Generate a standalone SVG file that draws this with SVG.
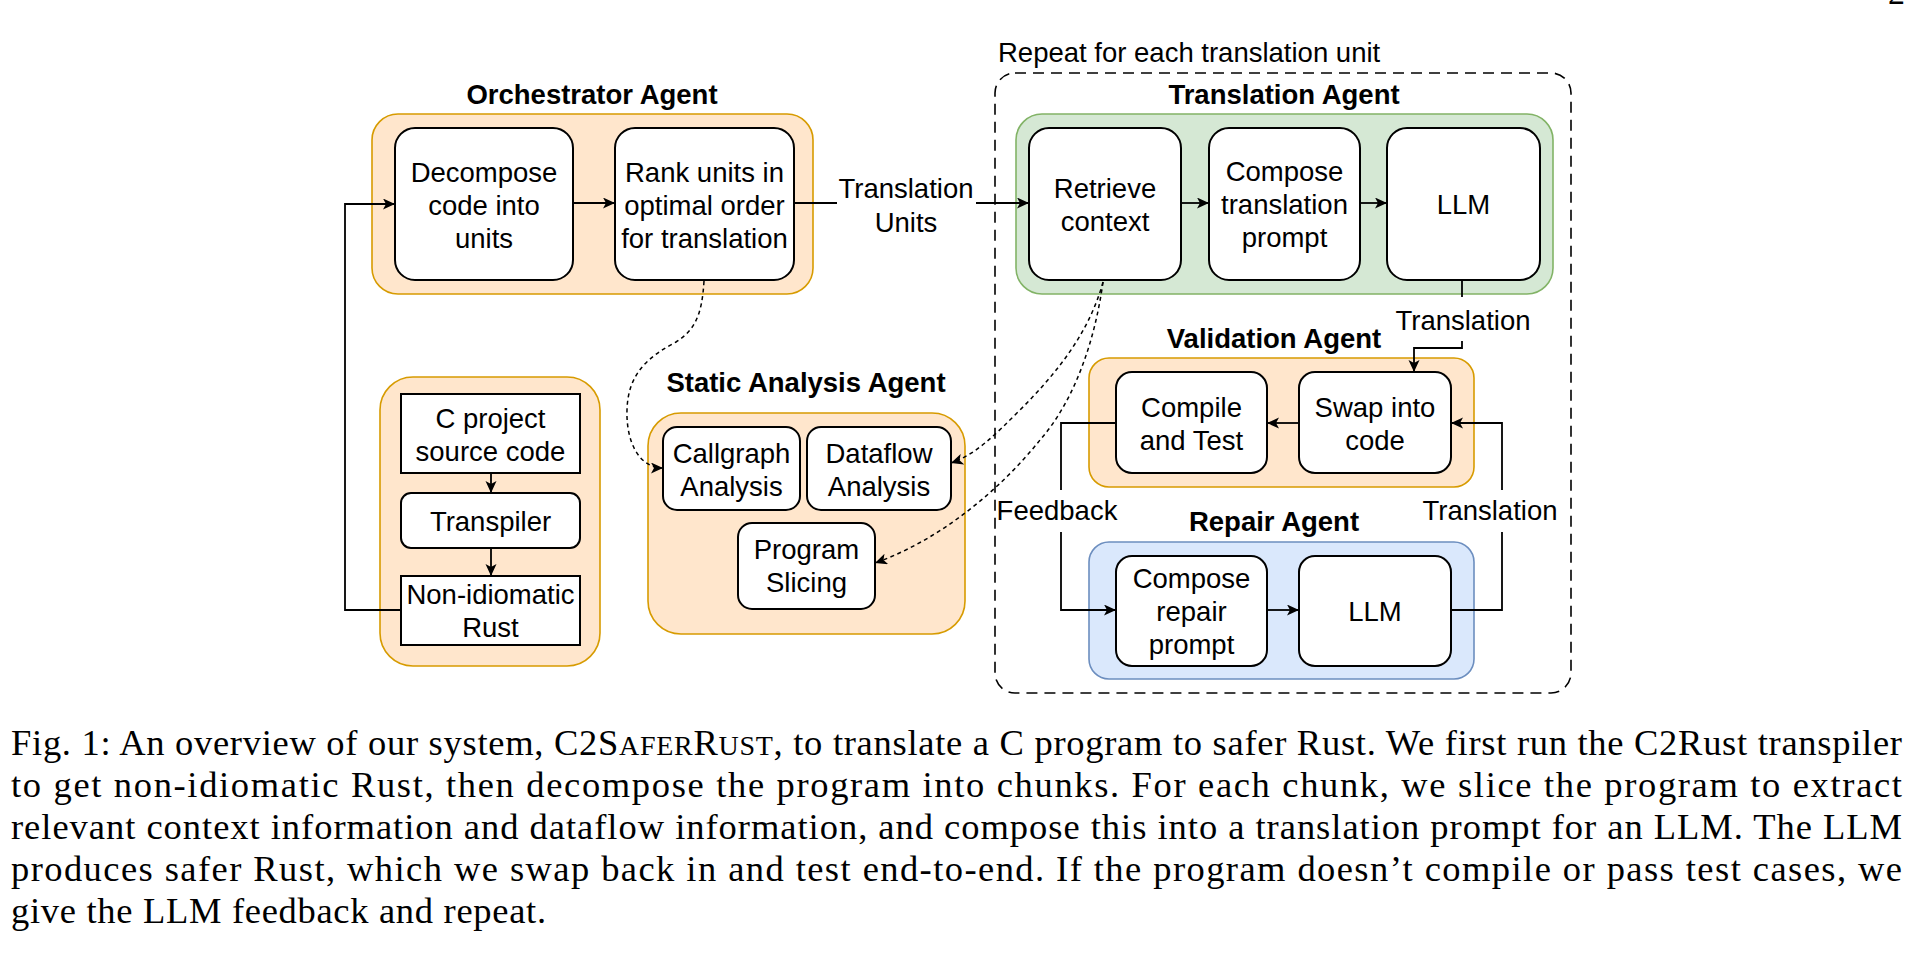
<svg xmlns="http://www.w3.org/2000/svg" width="1924" height="968" viewBox="0 0 1924 968">
<style>
.bg{fill:#ffffff}
.orange{fill:#ffe6cc;stroke:#d79b00;stroke-width:1.6}
.green{fill:#d5e8d4;stroke:#82b366;stroke-width:1.6}
.blue{fill:#dae8fc;stroke:#6c8ebf;stroke-width:1.6}
.box{fill:#ffffff;stroke:#000000;stroke-width:2}
.t{font-family:"Liberation Sans",Arial,Helvetica,sans-serif;font-size:27.5px;fill:#000000;text-anchor:middle}
.title{font-family:"Liberation Sans",Arial,Helvetica,sans-serif;font-size:27.5px;font-weight:bold;fill:#000000;text-anchor:middle}
.lbl{font-family:"Liberation Sans",Arial,Helvetica,sans-serif;font-size:27.5px;fill:#000000}
.edge{fill:none;stroke:#000000;stroke-width:1.8}
.dot{fill:none;stroke:#000000;stroke-width:1.5;stroke-dasharray:4 3.5}
.loop{fill:none;stroke:#000000;stroke-width:1.6;stroke-dasharray:11 7}
.cap{font-family:"Liberation Serif","Times New Roman",serif;font-size:36.5px;fill:#000000}
</style>
<defs>
<marker id="arr" markerUnits="userSpaceOnUse" markerWidth="14" markerHeight="12" refX="12" refY="5.5" orient="auto">
<path d="M0,0 L12,5.5 L0,11 L3,5.5 z" fill="#000000"/>
</marker>
</defs>
<rect class="bg" x="0" y="0" width="1924" height="968"/>

<!-- partial page number (cut off at the top edge, as in the reference) -->
<text x="1888" y="4" style="font-family:'Liberation Serif',serif;font-size:34px;fill:#000">2</text>

<!-- Repeat loop -->
<g id="repeat-loop">
<rect class="loop" x="995" y="73" width="576" height="620" rx="20" ry="20"/>
<text class="lbl" x="998" y="62">Repeat for each translation unit</text>
</g>

<!-- Orchestrator Agent -->
<g id="orchestrator-agent">
<text class="title" x="592" y="104">Orchestrator Agent</text>
<rect class="orange" x="372" y="114" width="441" height="180" rx="26" ry="26"/>
</g>
<g id="decompose">
<rect class="box" x="395" y="128" width="178" height="152" rx="20" ry="20"/>
<text class="t" x="484" y="182">Decompose</text>
<text class="t" x="484" y="215">code into</text>
<text class="t" x="484" y="248">units</text>
</g>
<g id="rank">
<rect class="box" x="615" y="128" width="179" height="152" rx="20" ry="20"/>
<text class="t" x="704.5" y="182">Rank units in</text>
<text class="t" x="704.5" y="215">optimal order</text>
<text class="t" x="704.5" y="248">for translation</text>
</g>

<!-- Translation Agent -->
<g id="translation-agent">
<text class="title" x="1284" y="104">Translation Agent</text>
<rect class="green" x="1016" y="114" width="537" height="180" rx="26" ry="26"/>
</g>
<g id="retrieve">
<rect class="box" x="1029" y="128" width="152" height="152" rx="20" ry="20"/>
<text class="t" x="1105" y="198">Retrieve</text>
<text class="t" x="1105" y="231">context</text>
</g>
<g id="compose-translation">
<rect class="box" x="1209" y="128" width="151" height="152" rx="20" ry="20"/>
<text class="t" x="1284.5" y="181">Compose</text>
<text class="t" x="1284.5" y="214">translation</text>
<text class="t" x="1284.5" y="247">prompt</text>
</g>
<g id="llm-translate">
<rect class="box" x="1387" y="128" width="153" height="152" rx="20" ry="20"/>
<text class="t" x="1463.5" y="214">LLM</text>
</g>

<!-- Validation Agent -->
<g id="validation-agent">
<text class="title" x="1274" y="348">Validation Agent</text>
<rect class="orange" x="1089" y="358" width="385" height="129" rx="20" ry="20"/>
</g>
<g id="compile-test">
<rect class="box" x="1116" y="372" width="151" height="101" rx="16" ry="16"/>
<text class="t" x="1191.5" y="417">Compile</text>
<text class="t" x="1191.5" y="450">and Test</text>
</g>
<g id="swap">
<rect class="box" x="1299" y="372" width="152" height="101" rx="16" ry="16"/>
<text class="t" x="1375" y="417">Swap into</text>
<text class="t" x="1375" y="450">code</text>
</g>

<!-- Repair Agent -->
<g id="repair-agent">
<text class="title" x="1274" y="531">Repair Agent</text>
<rect class="blue" x="1089" y="542" width="385" height="137" rx="20" ry="20"/>
</g>
<g id="compose-repair">
<rect class="box" x="1116" y="556" width="151" height="110" rx="16" ry="16"/>
<text class="t" x="1191.5" y="588">Compose</text>
<text class="t" x="1191.5" y="621">repair</text>
<text class="t" x="1191.5" y="654">prompt</text>
</g>
<g id="llm-repair">
<rect class="box" x="1299" y="556" width="152" height="110" rx="16" ry="16"/>
<text class="t" x="1375" y="621">LLM</text>
</g>

<!-- Input pipeline -->
<g id="input-pipeline">
<rect class="orange" x="380" y="377" width="220" height="289" rx="33" ry="33"/>
</g>
<g id="c-project">
<rect class="box" x="401" y="394" width="179" height="79"/>
<text class="t" x="490.5" y="428">C project</text>
<text class="t" x="490.5" y="461">source code</text>
</g>
<g id="transpiler">
<rect class="box" x="401" y="493" width="179" height="55" rx="10" ry="10"/>
<text class="t" x="490.5" y="531">Transpiler</text>
</g>
<g id="non-idiomatic">
<rect class="box" x="401" y="576" width="179" height="69"/>
<text class="t" x="490.5" y="604">Non-idiomatic</text>
<text class="t" x="490.5" y="637">Rust</text>
</g>

<!-- Static Analysis Agent -->
<g id="static-analysis-agent">
<text class="title" x="806" y="392">Static Analysis Agent</text>
<rect class="orange" x="648" y="413" width="317" height="221" rx="33" ry="33"/>
</g>
<g id="callgraph">
<rect class="box" x="663" y="427" width="137" height="83" rx="14" ry="14"/>
<text class="t" x="731.5" y="463">Callgraph</text>
<text class="t" x="731.5" y="496">Analysis</text>
</g>
<g id="dataflow">
<rect class="box" x="807" y="427" width="144" height="83" rx="14" ry="14"/>
<text class="t" x="879" y="463">Dataflow</text>
<text class="t" x="879" y="496">Analysis</text>
</g>
<g id="slicing">
<rect class="box" x="738" y="523" width="137" height="86" rx="14" ry="14"/>
<text class="t" x="806.5" y="559">Program</text>
<text class="t" x="806.5" y="592">Slicing</text>
</g>

<!-- Connectors -->
<g id="connectors">
<path class="edge" d="M573,203 H615" marker-end="url(#arr)"/>
<path class="edge" d="M794,203 H837"/>
<path class="edge" d="M976,203 H1029" marker-end="url(#arr)"/>
<text class="t" x="906" y="198">Translation</text>
<text class="t" x="906" y="232">Units</text>
<path class="edge" d="M1181,203 H1209" marker-end="url(#arr)"/>
<path class="edge" d="M1360,203 H1387" marker-end="url(#arr)"/>

<path class="edge" d="M401,610 H345 V204 H395" marker-end="url(#arr)"/>
<path class="edge" d="M491,473 V493" marker-end="url(#arr)"/>
<path class="edge" d="M491,548 V576" marker-end="url(#arr)"/>

<path class="edge" d="M1462,280 V297"/>
<path class="edge" d="M1462,341 V348 H1414 V372" marker-end="url(#arr)"/>
<text class="t" x="1463" y="330">Translation</text>

<path class="edge" d="M1299,423 H1267" marker-end="url(#arr)"/>
<path class="edge" d="M1267,610 H1299" marker-end="url(#arr)"/>

<path class="edge" d="M1116,423 H1061 V490"/>
<path class="edge" d="M1061,532 V610 H1116" marker-end="url(#arr)"/>
<text class="t" x="1057" y="520">Feedback</text>

<path class="edge" d="M1451,610 H1502 V532"/>
<path class="edge" d="M1502,490 V423 H1451" marker-end="url(#arr)"/>
<text class="t" x="1490" y="520">Translation</text>

<path class="dot" d="M704,281 C702,315 695,330 676,342 C650,356 628,372 627,410 C626,440 638,468 663,468" marker-end="url(#arr)"/>
<path class="dot" d="M1103,282 C1090,330 1060,370 1020,410 C995,435 975,455 951,463" marker-end="url(#arr)"/>
<path class="dot" d="M1103,282 C1095,340 1075,400 1040,440 C1000,490 940,540 875,563" marker-end="url(#arr)"/>
</g>

<!-- Caption -->
<g id="caption">
<text class="cap" x="11" y="755" textLength="1891" lengthAdjust="spacing">Fig. 1: An overview of our system, C2S<tspan font-size="28">AFER</tspan>R<tspan font-size="28">UST</tspan>, to translate a C program to safer Rust. We first run the C2Rust transpiler</text>
<text class="cap" x="11" y="797" textLength="1891" lengthAdjust="spacing">to get non-idiomatic Rust, then decompose the program into chunks. For each chunk, we slice the program to extract</text>
<text class="cap" x="11" y="839" textLength="1891" lengthAdjust="spacing">relevant context information and dataflow information, and compose this into a translation prompt for an LLM. The LLM</text>
<text class="cap" x="11" y="881" textLength="1891" lengthAdjust="spacing">produces safer Rust, which we swap back in and test end-to-end. If the program doesn’t compile or pass test cases, we</text>
<text class="cap" x="11" y="923" textLength="535" lengthAdjust="spacing">give the LLM feedback and repeat.</text>
</g>
</svg>
